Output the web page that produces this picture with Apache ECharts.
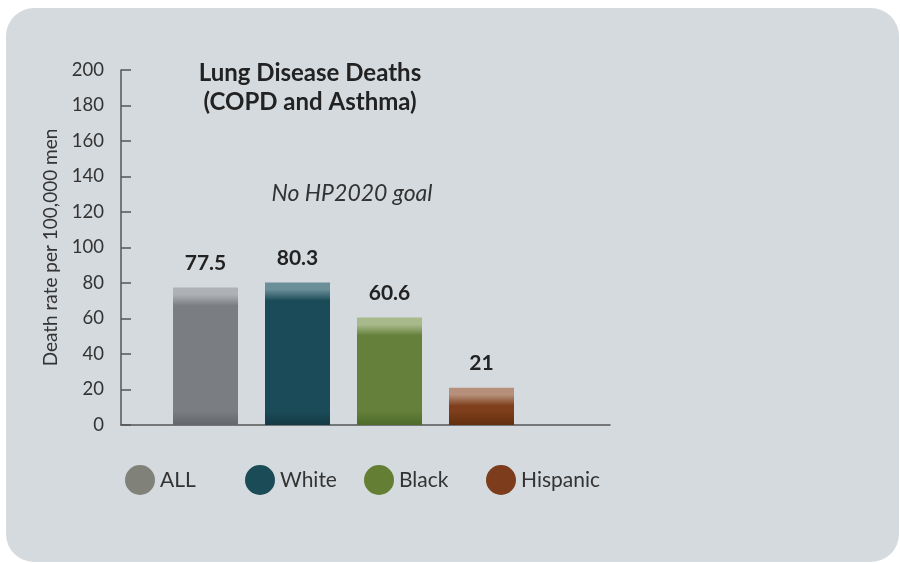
<!DOCTYPE html>
<html>
<head>
<meta charset="utf-8">
<script src="https://cdn.jsdelivr.net/npm/echarts@6/dist/echarts.min.js"></script>
<style>
html,body{margin:0;padding:0;background:#fff;}
#c{width:900px;height:563px;}
</style>
</head>
<body>
<div id="c"></div>
<script>
var categories = ['ALL', 'White', 'Black', 'Hispanic'];
var values = [77.5, 80.3, 60.6, 21];
var yTicks = [0, 200, 20];
var baseColors = ['#7a7e83', '#1b4b58', '#64803a', '#7f3e1c'];
var lightColors = ['#aeb2b6', '#6a8f98', '#a8ba8c', '#b6907a'];
var darkColors = ['#63666b', '#143a44', '#4d6a2b', '#62300f'];
var legendColors = ['#808279', '#1b4b57', '#647f33', '#7d3c1b'];
var legendLefts = [120, 240, 359, 481];

var chart = echarts.init(document.getElementById('c'), null, {renderer: 'canvas'});
var FONT = 'Lato, "Open Sans", sans-serif';
var PLOT_H = 355;

var series = categories.map(function (name, i) {
  var data = categories.map(function (c, j) { return j === i ? values[i] : '-'; });
  var h = values[i] / yTicks[1] * PLOT_H;
  var band = Math.min(0.45, 14 / h);
  var bottom = Math.max(0.55, 1 - 14 / h);
  return {
    name: name,
    type: 'bar',
    xAxisIndex: 1,
    yAxisIndex: 1,
    data: data,
    barWidth: 65,
    barGap: '-100%',
    itemStyle: {
      color: new echarts.graphic.LinearGradient(0, 0, 0, 1, [
        {offset: 0, color: lightColors[i]},
        {offset: band * 0.5, color: lightColors[i]},
        {offset: band * 1.3, color: baseColors[i]},
        {offset: bottom, color: baseColors[i]},
        {offset: 1, color: darkColors[i]}
      ])
    },
    label: {
      show: true,
      position: 'top',
      distance: 14,
      fontFamily: FONT,
      fontWeight: 'bold',
      fontSize: 21,
      color: '#222'
    }
  };
});

var legends = categories.map(function (c, i) {
  return {
    left: legendLefts[i],
    top: 460,
    icon: 'circle',
    itemWidth: 30,
    itemHeight: 30,
    selectedMode: false,
    textStyle: {fontFamily: FONT, fontSize: 21, color: '#333'},
    data: [{name: c, itemStyle: {color: legendColors[i]}}]
  };
});

var option = {
  backgroundColor: '#ffffff',
  animation: false,
  graphic: [{
    type: 'rect',
    z: -10,
    shape: {x: 6, y: 8, width: 893, height: 554, r: 28},
    style: {fill: '#d5dade'}
  }],
  title: [{
    text: 'Lung Disease Deaths\n(COPD and Asthma)',
    left: 305,
    top: 54,
    textAlign: 'center',
    textStyle: {fontFamily: FONT, fontWeight: 'bold', fontSize: 24, color: '#222', lineHeight: 29}
  }, {
    text: 'No HP2020 goal',
    left: 347,
    top: 177,
    textAlign: 'center',
    textStyle: {fontFamily: FONT, fontStyle: 'italic', fontWeight: 'normal', fontSize: 23, color: '#333'}
  }],
  legend: legends,
  grid: [
    {left: 121, right: 290, top: 70, bottom: 138},
    {left: 159.5, width: 368, top: 70, bottom: 138}
  ],
  xAxis: [{
    gridIndex: 0,
    type: 'value',
    min: 0, max: 1,
    axisLine: {show: true, lineStyle: {color: '#555', width: 1.5}},
    axisTick: {show: false},
    axisLabel: {show: false},
    splitLine: {show: false}
  }, {
    gridIndex: 1,
    type: 'category',
    data: categories,
    show: false
  }],
  yAxis: [{
    gridIndex: 0,
    type: 'value',
    min: yTicks[0], max: yTicks[1], interval: yTicks[2],
    name: 'Death rate per 100,000 men',
    nameLocation: 'middle',
    nameGap: 61,
    nameTextStyle: {fontFamily: FONT, fontSize: 19, color: '#333'},
    axisLine: {show: true, lineStyle: {color: '#555', width: 1.5}},
    axisTick: {show: true, inside: true, length: 10, lineStyle: {color: '#555', width: 1.5}},
    axisLabel: {fontFamily: FONT, fontSize: 18.5, color: '#333', margin: 17},
    splitLine: {show: false}
  }, {
    gridIndex: 1,
    type: 'value',
    min: yTicks[0], max: yTicks[1],
    show: false
  }],
  series: series
};
chart.setOption(option);
</script>
</body>
</html>
